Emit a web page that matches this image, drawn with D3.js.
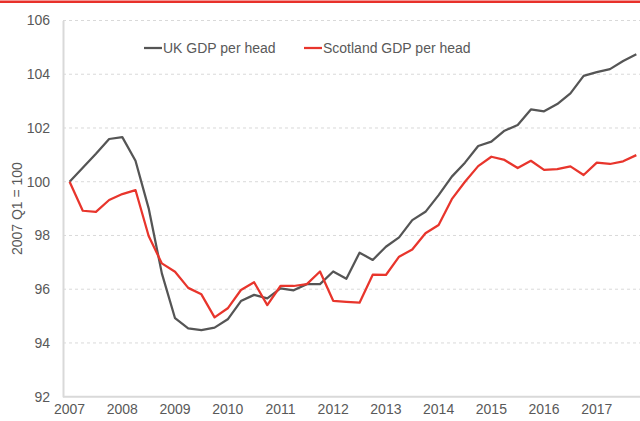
<!DOCTYPE html>
<html>
<head>
<meta charset="utf-8">
<script src="https://cdn.jsdelivr.net/npm/d3@7"></script>
<style>
  body { margin: 0; background: #fff; }
  text { font-family: "Liberation Sans", Arial, sans-serif; fill: #595959; }
</style>
</head>
<body>
<div id="chart"></div>
<script>
// quarterly index, 2007 Q1 = 100
var years = [2007, 2008, 2009, 2010, 2011, 2012, 2013, 2014, 2015, 2016, 2017];
var quarters = [];
years.forEach(function(y) { for (var q = 1; q <= 4; q++) quarters.push(y + " Q" + q); });

var ukGdp = [100.0, 100.52, 101.04, 101.59, 101.66, 100.78, 99.01, 96.59,
  94.92, 94.54, 94.48, 94.57, 94.88, 95.56, 95.79, 95.66,
  96.03, 95.96, 96.19, 96.19, 96.66, 96.39, 97.36, 97.09,
  97.58, 97.93, 98.57, 98.88, 99.5, 100.19, 100.71, 101.33,
  101.49, 101.9, 102.11, 102.69, 102.62, 102.89, 103.29, 103.94,
  104.08, 104.19, 104.49, 104.74];
var scotGdp = [100.0, 98.92, 98.88, 99.32, 99.54, 99.69, 97.98, 96.96,
  96.65, 96.05, 95.81, 94.95, 95.29, 95.97, 96.26, 95.41,
  96.12, 96.12, 96.19, 96.66, 95.57, 95.53, 95.5, 96.54,
  96.53, 97.21, 97.48, 98.08, 98.39, 99.35, 100.0, 100.58,
  100.93, 100.81, 100.51, 100.78, 100.44, 100.47, 100.57, 100.25,
  100.71, 100.66, 100.76, 100.99];
var yTicks = [92, 94, 96, 98, 100, 102, 104, 106];

var W = 640, H = 421;
var plotLeft = 63, plotTop = 20.5, plotBottom = 396.7;
var step = 13.18;

var svg = d3.select("#chart").append("svg")
  .attr("width", W).attr("height", H);

// red rule across the top
svg.append("rect")
  .attr("x", 0).attr("y", 0.5).attr("width", W).attr("height", 2.5)
  .attr("fill", "#e8312a");

var x = d3.scaleBand()
  .domain(quarters)
  .range([plotLeft, plotLeft + step * quarters.length]);

var y = d3.scaleLinear()
  .domain([92, 106])
  .range([plotBottom, plotTop]);

var xc = function(q) { return x(q) + x.bandwidth() / 2; };

// gridlines
svg.append("g")
  .selectAll("line")
  .data(yTicks.slice(1))
  .join("line")
    .attr("x1", plotLeft).attr("x2", W)
    .attr("y1", d => y(d)).attr("y2", d => y(d))
    .attr("stroke", "#d9d9d9")
    .attr("stroke-width", 1)
    .attr("stroke-dasharray", "3,3");

// y axis labels
var yAxisG = svg.append("g")
  .attr("transform", "translate(" + plotLeft + ",0)")
  .call(d3.axisLeft(y).tickValues(yTicks).tickSize(0).tickSizeOuter(0).tickPadding(13));
yAxisG.select(".domain")
  .attr("stroke", "#d9d9d9").attr("stroke-width", 2);
yAxisG.selectAll("text")
  .style("font-size", "14px")
  .style("font-family", '"Liberation Sans", Arial, sans-serif')
  .attr("fill", "#595959");

// x axis
var xAxisG = svg.append("g")
  .attr("transform", "translate(0," + plotBottom + ")")
  .call(d3.axisBottom(x)
    .tickValues(years.map(d => d + " Q1"))
    .tickFormat(d => d.slice(0, 4))
    .tickSize(0).tickSizeOuter(0).tickPadding(7));
xAxisG.select(".domain")
  .attr("d", "M" + plotLeft + ",0H" + W)
  .attr("stroke", "#d9d9d9").attr("stroke-width", 2);
xAxisG.selectAll("text")
  .style("font-size", "14px")
  .style("font-family", '"Liberation Sans", Arial, sans-serif')
  .attr("fill", "#595959");

// y axis title
svg.append("text")
  .attr("transform", "translate(22," + ((plotTop + plotBottom) / 2) + ") rotate(-90)")
  .attr("text-anchor", "middle")
  .style("font-size", "14px")
  .text("2007 Q1 = 100");

// lines
var line = d3.line()
  .x((d, i) => xc(quarters[i]))
  .y(d => y(d));

svg.append("path")
  .datum(ukGdp)
  .attr("d", line)
  .attr("fill", "none")
  .attr("stroke", "#555555")
  .attr("stroke-width", 2.25)
  .attr("stroke-linejoin", "round");

svg.append("path")
  .datum(scotGdp)
  .attr("d", line)
  .attr("fill", "none")
  .attr("stroke", "#e8352c")
  .attr("stroke-width", 2.25)
  .attr("stroke-linejoin", "round");

// legend
var legend = [
  {name: "UK GDP per head", color: "#555555", x: 144},
  {name: "Scotland GDP per head", color: "#e8352c", x: 304}
];
var lg = svg.append("g").selectAll("g")
  .data(legend)
  .join("g")
    .attr("transform", d => "translate(" + d.x + ",48)");
lg.append("line")
  .attr("x1", 0).attr("x2", 18)
  .attr("stroke", d => d.color)
  .attr("stroke-width", 2.25);
lg.append("text")
  .attr("x", 19)
  .attr("dy", "0.35em")
  .style("font-size", "14px")
  .text(d => d.name);
</script>
</body>
</html>
